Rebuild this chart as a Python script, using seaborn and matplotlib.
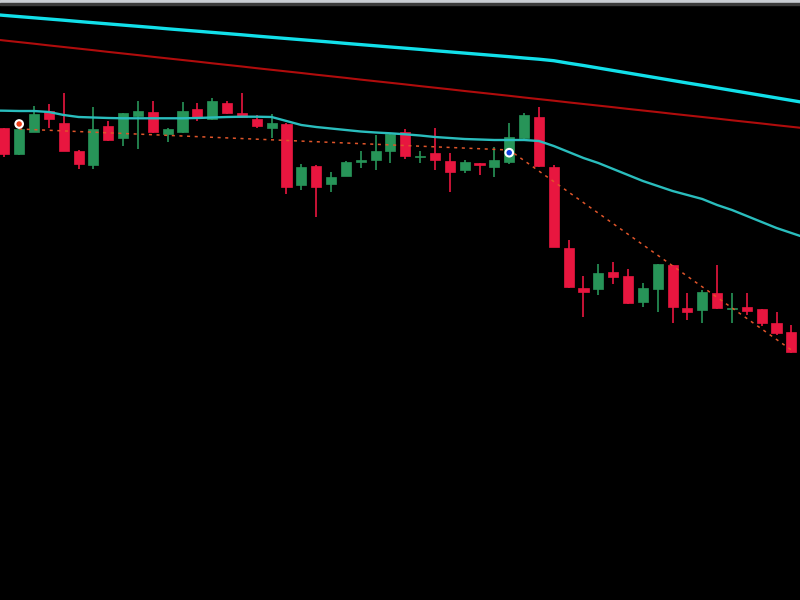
import matplotlib
matplotlib.use("Agg")
import matplotlib.pyplot as plt
from matplotlib.patches import Rectangle
import seaborn as sns
import numpy as np
import pandas as pd

# OHLC per bar (price units)
opens = [47.17, 44.6, 46.83, 48.9, 47.73, 44.93, 43.5, 47.43, 46.2, 48.4,
         48.8, 46.6, 46.8, 49.1, 48.1, 49.7, 48.7, 48.1, 47.17, 47.57,
         41.5, 43.43, 41.6, 42.43, 43.85, 44.0, 44.93, 46.77, 44.28, 44.67,
         43.93, 43.0, 43.73, 43.33, 43.77, 46.17, 48.33, 43.27, 35.17, 31.17,
         31.1, 32.77, 32.4, 29.83, 31.07, 33.5, 29.17, 29.0, 30.73, 29.12,
         29.33, 29.07, 27.73, 26.83]
highs = [47.2, 47.2, 49.4, 49.6, 50.73, 45.0, 49.3, 47.93, 48.7, 49.93,
         49.93, 47.2, 49.83, 49.7, 50.2, 49.9, 50.73, 48.5, 48.6, 47.7,
         43.6, 43.5, 42.83, 43.93, 44.93, 46.5, 46.7, 47.07, 44.93, 47.17,
         44.67, 44.0, 43.75, 45.27, 47.73, 48.7, 49.33, 43.5, 36.0, 32.4,
         33.6, 33.83, 33.07, 31.67, 33.65, 33.55, 30.73, 31.0, 33.5, 30.73,
         30.73, 29.15, 28.83, 27.5]
lows = [44.33, 44.5, 46.8, 47.2, 44.9, 43.1, 43.1, 45.9, 45.4, 45.1,
        46.7, 45.83, 46.75, 47.9, 48.05, 48.6, 48.2, 47.23, 46.2, 40.6,
        41.0, 38.33, 40.83, 42.4, 43.17, 43.0, 43.67, 44.07, 43.67, 43.0,
        40.83, 42.67, 42.5, 42.27, 43.6, 46.1, 43.3, 35.3, 31.25, 28.27,
        30.5, 31.6, 29.6, 29.27, 28.77, 27.67, 28.0, 27.67, 29.1, 27.73,
        28.5, 27.4, 26.5, 24.75]
closes = [44.6, 47.1, 48.6, 48.1, 44.93, 43.6, 47.1, 46.0, 48.7, 48.93,
          46.8, 47.1, 48.93, 48.33, 49.9, 48.7, 48.3, 47.4, 47.73, 41.27,
          43.27, 41.27, 42.33, 43.77, 43.95, 44.93, 46.57, 44.4, 44.38, 44.0,
          42.83, 43.77, 43.5, 44.0, 46.27, 48.5, 43.4, 35.33, 31.33, 30.77,
          32.67, 32.27, 29.73, 31.17, 33.6, 29.27, 28.83, 30.83, 29.17, 29.22,
          28.9, 27.67, 26.73, 24.83]

# moving averages, bars -1 .. 54
ma_bars = list(range(-1, 55))
ma_slow = [58.59, 58.46, 58.34, 58.22, 58.10, 57.98, 57.85, 57.73, 57.61, 57.49,
           57.37, 57.25, 57.12, 57.00, 56.88, 56.76, 56.64, 56.52, 56.39, 56.27,
           56.15, 56.03, 55.91, 55.79, 55.66, 55.54, 55.42, 55.30, 55.18, 55.06,
           54.93, 54.81, 54.69, 54.57, 54.45, 54.33, 54.20, 54.08, 53.93, 53.68,
           53.45, 53.20, 52.95, 52.70, 52.45, 52.20, 51.95, 51.70, 51.46, 51.21,
           50.96, 50.71, 50.46, 50.21, 49.96, 49.71]
ma_mid = [56.12, 55.95, 55.79, 55.63, 55.46, 55.30, 55.14, 54.98, 54.81, 54.65,
          54.49, 54.32, 54.16, 54.00, 53.84, 53.67, 53.51, 53.35, 53.18, 53.02,
          52.86, 52.70, 52.53, 52.37, 52.21, 52.04, 51.88, 51.72, 51.56, 51.39,
          51.23, 51.07, 50.90, 50.74, 50.58, 50.42, 50.25, 50.09, 49.93, 49.76,
          49.60, 49.44, 49.28, 49.11, 48.95, 48.79, 48.62, 48.46, 48.30, 48.14,
          47.97, 47.81, 47.65, 47.48, 47.32, 47.16]
ma_fast = [48.95, 48.93, 48.90, 48.90, 48.80, 48.50, 48.30, 48.25, 48.20, 48.17,
           48.17, 48.17, 48.17, 48.17, 48.20, 48.25, 48.30, 48.33, 48.33, 48.30,
           47.90, 47.50, 47.30, 47.15, 47.00, 46.85, 46.75, 46.67, 46.57, 46.45,
           46.30, 46.20, 46.10, 46.05, 46.00, 46.00, 46.00, 45.90, 45.40, 44.80,
           44.20, 43.70, 43.10, 42.50, 41.90, 41.40, 40.90, 40.50, 40.10, 39.50,
           39.00, 38.40, 37.80, 37.20, 36.70, 36.20]

# dotted trade line and signal markers
trade_bars = [1, 34, 53]
trade_price = [47.1, 45.0, 25.0]
signal_bars = [1, 34]
signal_price = [47.6, 44.73]
signal_kind = ["sell", "buy"]

UP = "#279458"
DOWN = "#e8163f"

sns.set_theme(style="dark", rc={"axes.facecolor": "black", "figure.facecolor": "black"})

fig = plt.figure(figsize=(8, 6), dpi=100)
ax = fig.add_axes([0, 0, 1, 1])
ax.set_facecolor("black")

bars = np.arange(len(opens))
o = np.array(opens)
c = np.array(closes)
colors = [UP if cc >= oo else DOWN for oo, cc in zip(o, c)]

ax.vlines(bars, lows, highs, colors=colors, linewidth=1.2, zorder=2)
ax.bar(bars, np.maximum(np.abs(c - o), 0.12), bottom=np.minimum(o, c),
       width=0.68, color=colors, edgecolor=colors, linewidth=0.5, zorder=3)

ma = pd.DataFrame({"bar": ma_bars, "slow": ma_slow, "mid": ma_mid, "fast": ma_fast})
sns.lineplot(data=ma, x="bar", y="slow", ax=ax, color="#12e0ea", linewidth=2.4, zorder=4)
sns.lineplot(data=ma, x="bar", y="mid", ax=ax, color="#b00c0c", linewidth=1.5, zorder=4)
sns.lineplot(data=ma, x="bar", y="fast", ax=ax, color="#2abdbd", linewidth=1.7, zorder=4)

sns.lineplot(x=trade_bars, y=trade_price, ax=ax, color="#e0552a",
             linewidth=1.1, linestyle=(0, (2, 3)), zorder=5)

sig = pd.DataFrame({"bar": signal_bars, "price": signal_price, "kind": signal_kind})
sns.scatterplot(data=sig, x="bar", y="price", hue="kind",
                palette={"sell": "#f0401a", "buy": "#1040e0"},
                s=30, edgecolor="white", linewidth=1.5, legend=False, ax=ax, zorder=6)

ax.set_xlim(-0.29, 53.58)
ax.set_ylim(0, 60)
ax.set_xticks([])
ax.set_yticks([])
ax.set_xlabel("")
ax.set_ylabel("")
for s in ax.spines.values():
    s.set_visible(False)

# window border at the top
fig.patches.append(Rectangle((0, 1 - 3 / 600), 1, 3 / 600, transform=fig.transFigure,
                             color="#c9cdd2", zorder=10))
fig.patches.append(Rectangle((0, 1 - 5 / 600), 1, 2 / 600, transform=fig.transFigure,
                             color="#3a3a3a", zorder=10))

fig.savefig("out.png", dpi=100, facecolor="black")
